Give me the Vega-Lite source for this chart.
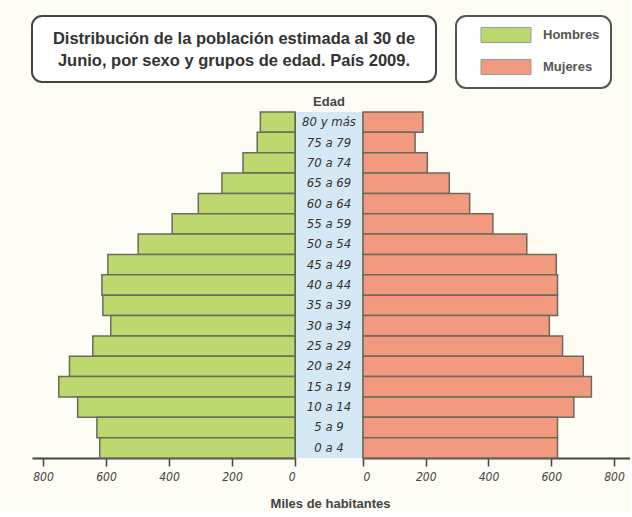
{
  "$schema": "https://vega.github.io/schema/vega-lite/v6.json",
  "background": "#fdfcf5",
  "padding": {"left": 31, "top": 15, "right": 0, "bottom": 0},
  "config": {
    "font": "Liberation Sans",
    "view": {"stroke": null},
    "concat": {"spacing": 13},
    "axis": {"labelFont": "DejaVu Sans Condensed", "labelFontStyle": "italic", "labelFontSize": 12, "labelColor": "#444", "labelPadding": 5, "domainColor": "#444", "domainWidth": 2, "tickColor": "#444", "tickWidth": 1.5, "tickSize": 8, "grid": false},
    "legend": {"orient": "none", "legendX": 424, "legendY": 0, "strokeColor": "#555", "strokeWidth": 2, "cornerRadius": 10, "padding": 11, "labelFont": "Liberation Sans", "labelFontSize": 13, "labelFontWeight": "bold", "labelColor": "#555", "symbolType": "M-3.333,-1H3.333V1H-3.333Z", "symbolSize": 225, "symbolStrokeColor": "#999", "symbolStrokeWidth": 1, "symbolOffset": 31, "rowPadding": 12, "labelOffset": 29, "title": null, "fillColor": "#ffffff"}
  },
  "title": {"text": "Miles de habitantes", "orient": "bottom", "anchor": "middle", "font": "Liberation Sans", "fontSize": 13, "fontWeight": "bold", "color": "#444", "offset": 16},
  "datasets": {
    "pob": [
      {"edad": "80 y más", "sexo": "Hombres", "valor": 110}, {"edad": "80 y más", "sexo": "Mujeres", "valor": 191},
      {"edad": "75 a 79", "sexo": "Hombres", "valor": 120}, {"edad": "75 a 79", "sexo": "Mujeres", "valor": 166},
      {"edad": "70 a 74", "sexo": "Hombres", "valor": 165}, {"edad": "70 a 74", "sexo": "Mujeres", "valor": 205},
      {"edad": "65 a 69", "sexo": "Hombres", "valor": 232}, {"edad": "65 a 69", "sexo": "Mujeres", "valor": 275},
      {"edad": "60 a 64", "sexo": "Hombres", "valor": 307}, {"edad": "60 a 64", "sexo": "Mujeres", "valor": 340},
      {"edad": "55 a 59", "sexo": "Hombres", "valor": 390}, {"edad": "55 a 59", "sexo": "Mujeres", "valor": 414},
      {"edad": "50 a 54", "sexo": "Hombres", "valor": 498}, {"edad": "50 a 54", "sexo": "Mujeres", "valor": 522},
      {"edad": "45 a 49", "sexo": "Hombres", "valor": 594}, {"edad": "45 a 49", "sexo": "Mujeres", "valor": 616},
      {"edad": "40 a 44", "sexo": "Hombres", "valor": 613}, {"edad": "40 a 44", "sexo": "Mujeres", "valor": 620},
      {"edad": "35 a 39", "sexo": "Hombres", "valor": 610}, {"edad": "35 a 39", "sexo": "Mujeres", "valor": 620},
      {"edad": "30 a 34", "sexo": "Hombres", "valor": 585}, {"edad": "30 a 34", "sexo": "Mujeres", "valor": 594},
      {"edad": "25 a 29", "sexo": "Hombres", "valor": 642}, {"edad": "25 a 29", "sexo": "Mujeres", "valor": 636},
      {"edad": "20 a 24", "sexo": "Hombres", "valor": 716}, {"edad": "20 a 24", "sexo": "Mujeres", "valor": 702},
      {"edad": "15 a 19", "sexo": "Hombres", "valor": 750}, {"edad": "15 a 19", "sexo": "Mujeres", "valor": 728},
      {"edad": "10 a 14", "sexo": "Hombres", "valor": 690}, {"edad": "10 a 14", "sexo": "Mujeres", "valor": 672},
      {"edad": "5 a 9", "sexo": "Hombres", "valor": 629}, {"edad": "5 a 9", "sexo": "Mujeres", "valor": 620},
      {"edad": "0 a 4", "sexo": "Hombres", "valor": 620}, {"edad": "0 a 4", "sexo": "Mujeres", "valor": 620}
    ],
    "titulo": [
      {"linea": 1, "texto": "Distribución de la población estimada al 30 de"},
      {"linea": 2, "texto": "Junio, por sexo y grupos de edad. País 2009."}
    ]
  },
  "vconcat": [
    {
      "hconcat": [
        {
          "width": 404, "height": 66,
          "view": {"stroke": "#444", "strokeWidth": 2, "cornerRadius": 10, "fill": "#ffffff"},
          "data": {"name": "titulo"},
          "mark": {"type": "text", "font": "Liberation Sans", "fontSize": 16.5, "fontWeight": "bold", "color": "#333", "align": "center", "dy": 1},
          "encoding": {
            "y": {"field": "linea", "type": "ordinal", "axis": null, "scale": {"padding": 1.15}},
            "text": {"field": "texto"}
          }
        }
      ]
    },
    {
      "spacing": 0,
      "hconcat": [
        {
          "width": 263, "height": 346,
          "data": {"name": "pob"},
          "transform": [{"filter": "datum.sexo === 'Hombres'"}],
          "mark": {"type": "bar", "stroke": "#6b6b5a", "strokeWidth": 1.5},
          "encoding": {
            "y": {"field": "edad", "type": "nominal", "sort": null, "scale": {"paddingInner": 0, "paddingOuter": 0}, "axis": {"orient": "right", "labels": false, "ticks": false, "title": null}},
            "x": {"field": "valor", "type": "quantitative", "scale": {"domain": [0, 835], "reverse": true, "nice": false}, "axis": {"values": [0, 200, 400, 600, 800], "title": null}},
            "color": {"field": "sexo", "type": "nominal", "scale": {"domain": ["Hombres", "Mujeres"], "range": ["#bcd86e", "#f29a80"]}}
          }
        },
        {
          "width": 66, "height": 346,
          "view": {"fill": "#d5e9f5"},
          "title": {"text": "Edad", "font": "Liberation Sans", "fontSize": 13, "fontWeight": "bold", "color": "#444", "offset": 3},
          "data": {"name": "pob"},
          "transform": [{"filter": "datum.sexo === 'Hombres'"}],
          "mark": {"type": "text", "font": "DejaVu Sans Condensed", "fontSize": 13, "fontStyle": "italic", "color": "#333", "align": "center"},
          "encoding": {
            "y": {"field": "edad", "type": "nominal", "sort": null, "scale": {"paddingInner": 0, "paddingOuter": 0}, "axis": null},
            "text": {"field": "edad"}
          }
        },
        {
          "width": 267, "height": 346,
          "data": {"name": "pob"},
          "transform": [{"filter": "datum.sexo === 'Mujeres'"}],
          "mark": {"type": "bar", "stroke": "#6b6b5a", "strokeWidth": 1.5},
          "encoding": {
            "y": {"field": "edad", "type": "nominal", "sort": null, "scale": {"paddingInner": 0, "paddingOuter": 0}, "axis": {"orient": "left", "labels": false, "ticks": false, "title": null}},
            "x": {"field": "valor", "type": "quantitative", "scale": {"domain": [0, 851], "nice": false}, "axis": {"values": [0, 200, 400, 600, 800], "title": null}},
            "color": {"field": "sexo", "type": "nominal", "scale": {"domain": ["Hombres", "Mujeres"], "range": ["#bcd86e", "#f29a80"]}}
          }
        }
      ]
    }
  ],
  "resolve": {"scale": {"y": "independent"}}
}
